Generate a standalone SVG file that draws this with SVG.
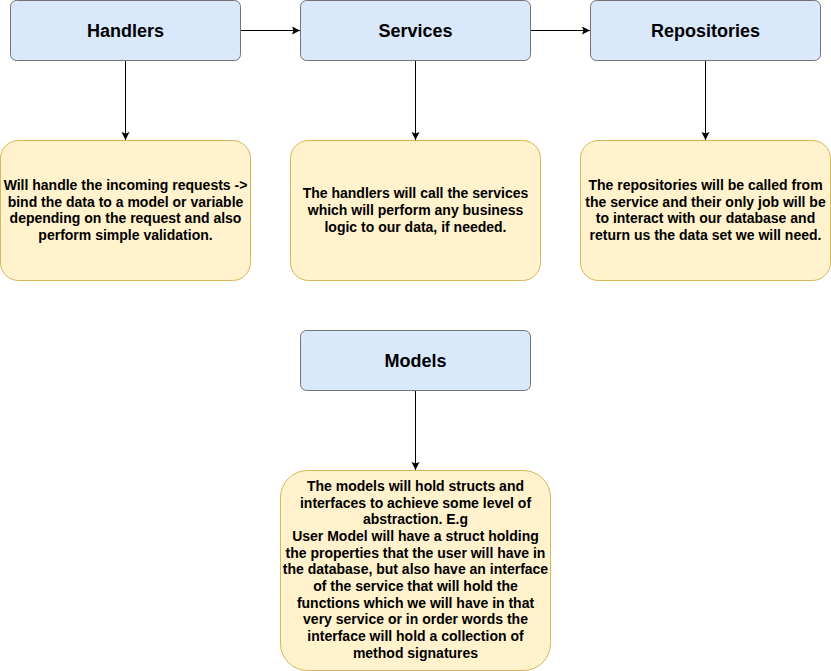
<svg xmlns="http://www.w3.org/2000/svg" width="831" height="671" viewBox="0 0 831 671">
<defs>
<style>
.blue{fill:#dae8fc;stroke:#737373;stroke-width:1}
.yel{fill:#fff2cc;stroke:#d6b656;stroke-width:1}
.title{font-family:"Liberation Sans",Arial,sans-serif;font-weight:bold;font-size:18px;fill:#000;text-anchor:middle}
.note{font-family:"Liberation Sans",Arial,sans-serif;font-weight:bold;font-size:14px;fill:#000;text-anchor:middle}
.conn{stroke:#000;stroke-width:1;fill:none;marker-end:url(#arr)}
</style>
<marker id="arr" markerWidth="10" markerHeight="10" refX="8" refY="4" orient="auto" markerUnits="userSpaceOnUse">
<path d="M0,0 L8,4 L0,8 L1.5,4 Z" fill="#000"/>
</marker>
</defs>
<rect width="831" height="671" fill="#fff"/>
<g id="connectors">
<path class="conn" d="M240.5,30.5 L300,30.5"/>
<path class="conn" d="M530.5,30.5 L590,30.5"/>
<path class="conn" d="M125.5,60.5 L125.5,140"/>
<path class="conn" d="M415.5,60.5 L415.5,140"/>
<path class="conn" d="M705.5,60.5 L705.5,140"/>
<path class="conn" d="M415.5,390.5 L415.5,470"/>
</g>
<g id="handlers">
<rect class="blue" x="10.5" y="0.5" width="230" height="60" rx="6"/>
<text class="title" x="125.5" y="37">Handlers</text>
</g>
<g id="services">
<rect class="blue" x="300.5" y="0.5" width="230" height="60" rx="6"/>
<text class="title" x="415.5" y="37">Services</text>
</g>
<g id="repositories">
<rect class="blue" x="590.5" y="0.5" width="230" height="60" rx="6"/>
<text class="title" x="705.5" y="37">Repositories</text>
</g>
<g id="handlers-note">
<rect class="yel" x="0.5" y="140.5" width="250" height="140" rx="18"/>
<text class="note" x="125.5" y="190">Will handle the incoming requests -&gt;</text>
<text class="note" x="125.5" y="207">bind the data to a model or variable</text>
<text class="note" x="125.5" y="223">depending on the request and also</text>
<text class="note" x="125.5" y="240">perform simple validation.</text>
</g>
<g id="services-note">
<rect class="yel" x="290.5" y="140.5" width="250" height="140" rx="18"/>
<text class="note" x="415.5" y="198">The handlers will call the services</text>
<text class="note" x="415.5" y="215">which will perform any business</text>
<text class="note" x="415.5" y="232">logic to our data, if needed.</text>
</g>
<g id="repositories-note">
<rect class="yel" x="580.5" y="140.5" width="250" height="140" rx="18"/>
<text class="note" x="705.5" y="190">The repositories will be called from</text>
<text class="note" x="705.5" y="207">the service and their only job will be</text>
<text class="note" x="705.5" y="223">to interact with our database and</text>
<text class="note" x="705.5" y="240">return us the data set we will need.</text>
</g>
<g id="models">
<rect class="blue" x="300.5" y="330.5" width="230" height="60" rx="6"/>
<text class="title" x="415.5" y="367">Models</text>
</g>
<g id="models-note">
<rect class="yel" x="280.5" y="470.5" width="270" height="200" rx="27"/>
<text class="note" x="415.5" y="491">The models will hold structs and</text>
<text class="note" x="415.5" y="508">interfaces to achieve some level of</text>
<text class="note" x="415.5" y="524">abstraction. E.g</text>
<text class="note" x="415.5" y="541">User Model will have a struct holding</text>
<text class="note" x="415.5" y="558">the properties that the user will have in</text>
<text class="note" x="415.5" y="574">the database, but also have an interface</text>
<text class="note" x="415.5" y="591">of the service that will hold the</text>
<text class="note" x="415.5" y="608">functions which we will have in that</text>
<text class="note" x="415.5" y="624">very service or in order words the</text>
<text class="note" x="415.5" y="641">interface will hold a collection of</text>
<text class="note" x="415.5" y="658">method signatures</text>
</g>
</svg>
